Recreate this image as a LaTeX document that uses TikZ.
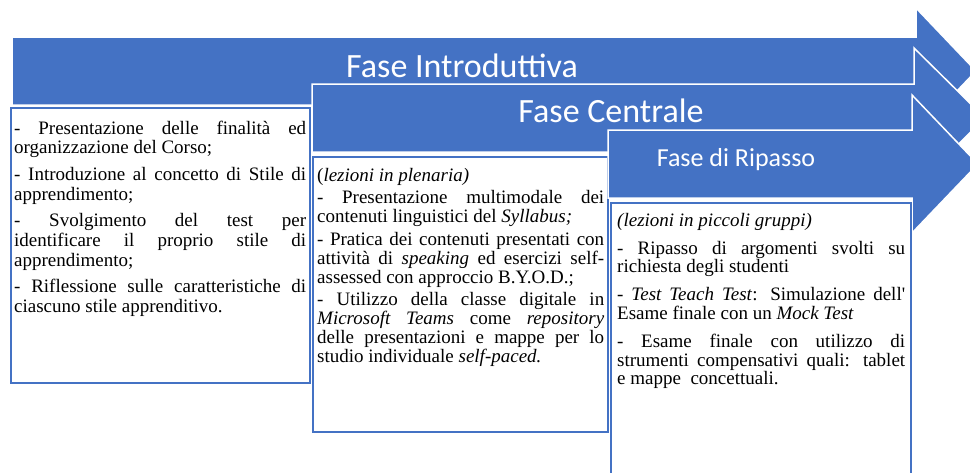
\documentclass[tikz,border=0pt]{standalone}
\usepackage{fontspec}
\setmainfont{Liberation Serif}[Ligatures=TeXOff]
\newfontfamily\headfont{Carlito}
\definecolor{ofblue}{HTML}{4472C4}
\begin{document}
\begin{tikzpicture}[x=1pt,y=-1pt,
  arrowshape/.style={fill=ofblue, draw=white, line width=1.5pt, line join=miter},
  txtbox/.style={fill=white, draw=ofblue, line width=2pt},
  headtext/.style={text=white, anchor=base, inner sep=0pt, font=\headfont\fontsize{34}{38}\selectfont},
  bodytext/.style={anchor=base west, inner sep=0pt, align=justify}
]
\path[use as bounding box] (0,0) rectangle (970,472);
\begin{scope}
\clip (0,0) rectangle (970,472);
\fill[white] (0,0) rectangle (970,472);
% arrow 1
\draw[arrowshape] (12,37) -- (916,37) -- (916,8) -- (976,71) -- (916,134) -- (916,105) -- (12,105) -- cycle;
\node[headtext] (h1) at (462,77.5) {Fase Introduttiva};
\draw[txtbox] (11,108) rectangle (310,383);
\node[bodytext, text width=292pt, font=\fontsize{19}{19.7}\selectfont] (t1) at (14,134) {\setlength{\parskip}{7pt}%
- Presentazione delle finalità ed \linebreak organizzazione del Corso;\par
- Introduzione al concetto di Stile di \linebreak apprendimento;\par
- Svolgimento del test per \linebreak identificare il proprio stile di \linebreak apprendimento;\par
- Riflessione sulle caratteristiche di \linebreak ciascuno stile apprenditivo.};
% arrow 2
\draw[arrowshape] (312,84) -- (914,84) -- (914,48) -- (985,118) -- (914,188) -- (914,152) -- (312,152) -- cycle;
\node[headtext] (h2) at (611,122.5) {Fase Centrale};
\draw[txtbox] (313,157) rectangle (608,432);
\node[bodytext, text width=287pt, font=\fontsize{19}{18.8}\selectfont] (t2) at (317,181) {\setlength{\parskip}{4pt}%
(\textit{lezioni in plenaria)}\par
- Presentazione multimodale dei \linebreak contenuti linguistici del \textit{Syllabus;}\par
- Pratica dei contenuti presentati con \linebreak attività di \textit{speaking} ed esercizi self-\linebreak assessed con approccio B.Y.O.D.;\par
- Utilizzo della classe digitale in \linebreak \textit{Microsoft Teams} come \textit{repository} \linebreak delle presentazioni e mappe per lo \linebreak studio individuale \textit{self-paced.}};
% arrow 3
\draw[arrowshape] (608,130) -- (912,130) -- (912,95) -- (978,164) -- (912,233) -- (912,198) -- (608,198) -- cycle;
\node[headtext, font=\headfont\fontsize{26}{30}\selectfont] (h3) at (736,166.5) {Fase di Ripasso};
\draw[txtbox] (611,203) rectangle (911,490);
\node[bodytext, text width=288pt, font=\fontsize{19}{18.6}\selectfont] (t3) at (617,226) {\setlength{\parskip}{9.5pt}%
\textit{(lezioni in piccoli gruppi)}\par
- Ripasso di argomenti svolti su \linebreak richiesta degli studenti\par
- \textit{Test Teach Test}: Simulazione dell' \linebreak Esame finale con un \textit{Mock Test}\par
- Esame finale con utilizzo di \linebreak strumenti compensativi quali: tablet \linebreak e mappe\ \ concettuali.};
\end{scope}
\end{tikzpicture}
\end{document}
